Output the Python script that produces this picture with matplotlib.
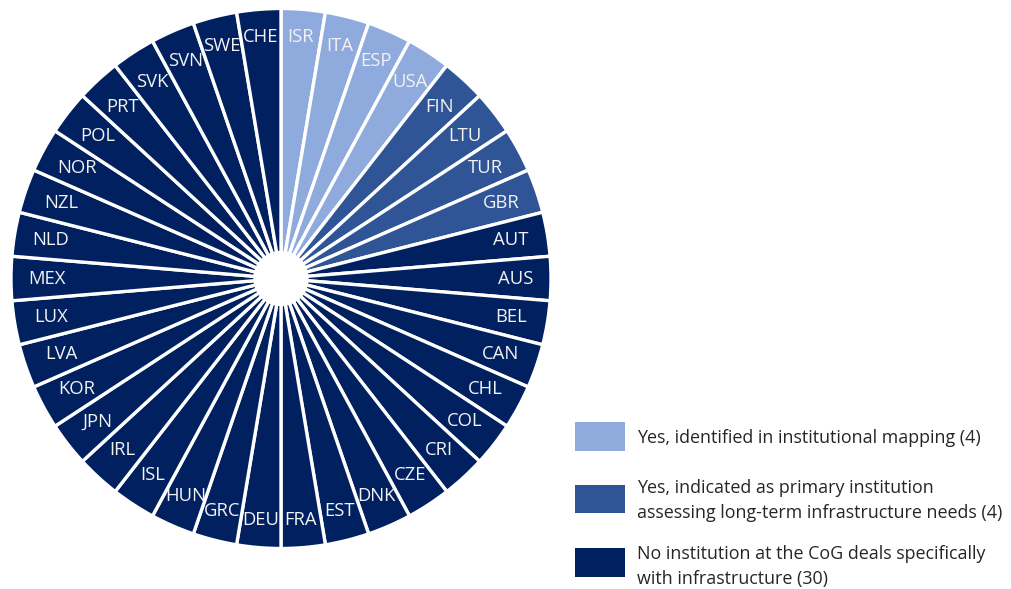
import matplotlib.pyplot as plt
from matplotlib.patches import Rectangle, Circle
import numpy as np

plt.rcParams['font.family'] = ['Open Sans', 'DejaVu Sans']

# countries, clockwise from 12 o'clock
countries = ['ISR', 'ITA', 'ESP', 'USA',
             'FIN', 'LTU', 'TUR', 'GBR',
             'AUT', 'AUS', 'BEL', 'CAN', 'CHL', 'COL', 'CRI', 'CZE', 'DNK', 'EST',
             'FRA', 'DEU', 'GRC', 'HUN', 'ISL', 'IRL', 'JPN', 'KOR', 'LVA', 'LUX',
             'MEX', 'NLD', 'NZL', 'NOR', 'POL', 'PRT', 'SVK', 'SVN', 'SWE', 'CHE']
# 0 = identified in mapping, 1 = primary institution, 2 = no institution
category = [0] * 4 + [1] * 4 + [2] * 30
values = [1] * len(countries)

colors = ['#8FAADC', '#2F5597', '#002060']
legend_labels = ['Yes, identified in institutional mapping (4)',
                 'Yes, indicated as primary institution\nassessing long-term infrastructure needs (4)',
                 'No institution at the CoG deals specifically\nwith infrastructure (30)']

W, H = 1012, 589
fig = plt.figure(figsize=(W / 100, H / 100), dpi=100)

cx, cy, R = 281, 278.5, 270
ax = fig.add_axes([(cx - R) / W, (H - cy - R) / H, 2 * R / W, 2 * R / H])
ax.set_aspect('equal')
ax.axis('off')

wedges, _ = ax.pie(values, colors=[colors[c] for c in category], startangle=90,
                   counterclock=False, radius=1,
                   wedgeprops=dict(edgecolor='white', linewidth=2.4))
ax.set_xlim(-1, 1)
ax.set_ylim(-1, 1)
ax.add_patch(Circle((0, 0), 0.1, color='white', zorder=3))

# labels sit inside the outer edge of each slice
n = len(values)
for i, name in enumerate(countries):
    theta = np.deg2rad(90 - 360 / n * (i + 0.5))
    r = 1 - 0.06 - (0.072 * abs(np.cos(theta)) + 0.035 * abs(np.sin(theta)))
    ax.text(r * np.cos(theta), r * np.sin(theta), name, color='#F2F2F2',
            ha='center', va='center', fontsize=13.3, zorder=4)

# legend
boxes = [(575, 422, 451), (575, 485, 513), (575, 548, 577)]
text_y = [438, 500.5, 566.5]
for (x0, y0, y1), ty, col, lab in zip(boxes, text_y, colors, legend_labels):
    fig.patches.append(Rectangle((x0 / W, 1 - y1 / H), 50 / W, (y1 - y0) / H,
                                 transform=fig.transFigure, facecolor=col,
                                 edgecolor='none'))
    fig.text(637 / W, 1 - ty / H, lab, ha='left', va='center', fontsize=12.9,
             color='#262626', linespacing=1.55)

fig.savefig('out.png', dpi=100, facecolor='white')
